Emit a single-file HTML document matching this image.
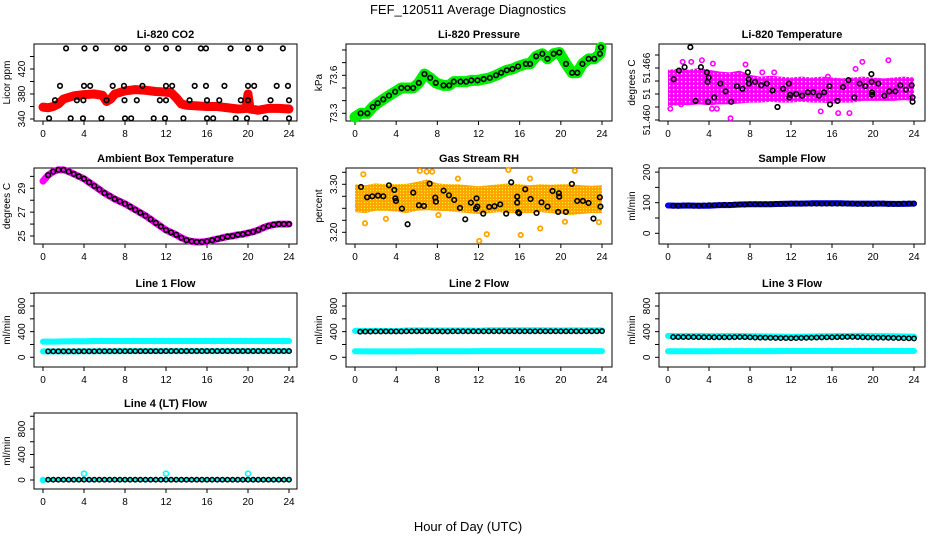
<!DOCTYPE html>
<html><head><meta charset="utf-8">
<style>
html,body{margin:0;padding:0;background:#fff;}
svg{display:block;font-family:"Liberation Sans",Arial,sans-serif;}
</style></head>
<body>
<svg id="chart" width="936" height="540" viewBox="0 0 936 540" xmlns="http://www.w3.org/2000/svg">
<defs>
<pattern id="magPat" width="4" height="4" patternUnits="userSpaceOnUse"><rect width="4" height="4" fill="#ff00ff"/><rect x="1" y="1" width="1.3" height="1.3" fill="#fff"/></pattern>
<pattern id="orPat" width="3" height="3" patternUnits="userSpaceOnUse"><rect width="3" height="3" fill="#ffa500"/><rect x="1" y="1" width="1" height="1" fill="#ffff00"/></pattern>
</defs>
<text x="468" y="14" text-anchor="middle" font-size="13">FEF_120511  Average Diagnostics</text>
<text x="468" y="531" text-anchor="middle" font-size="13">Hour of Day (UTC)</text>
</svg>
<script>
// ---------- data ----------
const xTicks = [0,4,8,12,16,20,24];
const halfHours = [0.5,1,1.5,2,2.5,3,3.5,4,4.5,5,5.5,6,6.5,7,7.5,8,8.5,9,9.5,10,10.5,11,11.5,12,12.5,13,13.5,14,14.5,15,15.5,16,16.5,17,17.5,18,18.5,19,19.5,20,20.5,21,21.5,22,22.5,23,23.5,24];
const hours = [0,1,2,3,4,5,6,7,8,9,10,11,12,13,14,15,16,17,18,19,20,21,22,23,24];

// CO2
const co2BandHours = [0,0.5,1,1.5,2,3,4,5,5.8,6.2,6.6,7,8,9,10,11,12,12.5,13,13.5,14,15,16,17,18,19,19.8,20,20.2,21,22,23,24];
const co2BandVals  = [359,358,360,364,372,377,379,380,378,368,372,380,385,387,386,384,383,382,374,364,362,361,360,360,358,356,357,380,356,354,357,357,356];
const co2PtHours = [2.25,4.04,5.15,7.26,7.92,10.2,12.0,13.2,15.4,15.9,18.3,20.0,21.2,23.4, 1.66,4.0,4.6,6.8,7.9,9.7,12.0,12.6,14.8,15.9,17.7,20.0,20.6,22.8,23.9, 1.17,3.3,3.94,6.2,7.95,9.15,11.4,12.0,14.3,16.0,17.2,19.3,20.0,22.2,24.0, 0.59,2.7,3.9,5.7,8.0,8.6,10.8,11.9,13.7,16.0,16.6,18.8,19.9,21.7,24.0];
const co2PtVals  = [453,453,453,453,453,453,453,453,453,453,453,453,453,453, 393,393,393,393,393,393,393,393,393,393,393,393,393,393,393, 370,370,370,370,370,370,370,370,370,370,370,370,370,370,370, 341,341,341,341,341,341,341,341,341,341,341,341,341,341,341];

// Pressure
const presHours = [0,0.55,1.2,1.72,2.2,2.75,3.3,3.9,4.5,5.1,5.65,6.2,6.75,7.3,7.85,8.6,9.15,9.6,10.25,10.8,11.3,11.9,12.5,13.1,13.7,14.2,14.75,15.3,15.85,16.6,17.0,17.6,18.2,18.7,19.3,19.85,20.5,21.1,21.6,22.1,22.7,23.25,23.8,23.9];
const presVals  = [73.27,73.30,73.30,73.35,73.38,73.41,73.44,73.47,73.50,73.50,73.50,73.54,73.61,73.58,73.54,73.52,73.52,73.55,73.55,73.55,73.56,73.56,73.57,73.58,73.60,73.62,73.64,73.65,73.67,73.69,73.69,73.75,73.77,73.73,73.77,73.78,73.69,73.62,73.62,73.69,73.73,73.73,73.77,73.82];

// Li-820 temperature
const tempUpper = [51.4658,51.4659,51.4658,51.4660,51.4658,51.4656,51.4655,51.4657,51.4652,51.4650,51.4651,51.4650,51.4649,51.4650,51.4649,51.4650,51.4649,51.4648,51.4649,51.4650,51.4649,51.4648,51.4649,51.4650,51.4649];
const tempLower = [51.4616,51.4617,51.4617,51.4618,51.4617,51.4618,51.4618,51.4619,51.4620,51.4620,51.4621,51.4620,51.4620,51.4621,51.4620,51.4620,51.4619,51.4620,51.4620,51.4622,51.4622,51.4622,51.4622,51.4623,51.4622];
const tempOutHours = [1.43,2.27,3.31,4.38,0.23,1.27,4.29,4.77,6.1,7.56,9.2,10.36,15.6,16.6,17.7,18.3,18.96,21.5,14.9];
const tempOutVals  = [51.4667,51.4667,51.4669,51.4665,51.4613,51.4618,51.4613,51.4613,51.4602,51.4664,51.4655,51.4655,51.4650,51.4608,51.4608,51.4659,51.4667,51.4669,51.4610];
const tempPtHours = [0.55,1.07,1.62,2.18,2.69,3.21,3.8,3.86,3.9,3.96,4.51,5.1,5.62,6.17,6.72,7.27,7.79,7.86,7.89,8.5,9.09,9.64,10.2,10.68,11.23,11.79,11.85,11.92,12.5,13.08,13.64,14.16,14.74,15.23,15.75,15.81,16.53,17.08,17.6,18.18,18.7,19.25,19.84,19.87,19.9,19.9,20.52,21.1,21.59,22.18,22.66,23.21,23.77,23.86,23.86];
const tempPtVals  = [51.4647,51.4657,51.4661,51.4684,51.4622,51.4661,51.4655,51.4644,51.4621,51.4649,51.4626,51.4642,51.4633,51.4621,51.4639,51.4636,51.4655,51.4647,51.4642,51.4644,51.4640,51.4642,51.4634,51.4615,51.4636,51.4642,51.4626,51.4629,51.4630,51.4628,51.4632,51.4632,51.4628,51.4632,51.4639,51.4618,51.4622,51.4638,51.4646,51.4626,51.4642,51.4639,51.4653,51.4644,51.4632,51.4629,51.4642,51.4628,51.4633,51.4633,51.4640,51.4635,51.4640,51.4626,51.4621];

// Ambient box temperature (0..24 every 0.5 h)
const ambVals = [29.6,30.1,30.4,30.55,30.55,30.4,30.2,30.0,29.8,29.5,29.2,28.9,28.6,28.35,28.1,27.9,27.7,27.45,27.2,26.95,26.7,26.4,26.1,25.8,25.5,25.3,25.1,24.85,24.65,24.55,24.5,24.5,24.55,24.65,24.75,24.85,24.95,25.0,25.1,25.15,25.25,25.35,25.5,25.7,25.85,25.95,26.0,26.0,26.0];

// Gas stream RH
const rhUpper = [3.300,3.298,3.302,3.300,3.300,3.301,3.305,3.310,3.302,3.300,3.300,3.298,3.296,3.298,3.300,3.302,3.300,3.298,3.300,3.299,3.300,3.300,3.298,3.297,3.298];
const rhLower = [3.242,3.240,3.245,3.245,3.243,3.240,3.245,3.246,3.245,3.244,3.242,3.240,3.238,3.240,3.242,3.240,3.240,3.240,3.242,3.240,3.238,3.236,3.238,3.240,3.240];
const rhOutHours = [0.97,0.81,6.3,6.96,7.5,12.07,12.8,14.9,16.1,18.0,21.36,20.4,23.7,8.1,0.3,3.0,10.0,17.0];
const rhOutVals  = [3.2188,3.3208,3.3278,3.3264,3.3264,3.182,3.196,3.330,3.1944,3.208,3.3278,3.222,3.221,3.236,3.255,3.228,3.312,3.312];
const rhPtHours = [0.58,1.17,1.68,2.23,2.75,3.3,3.82,3.92,3.98,4.56,5.11,5.66,6.21,6.7,7.25,7.8,7.86,8.61,9.13,9.64,10.2,10.71,11.26,11.75,11.81,11.88,12.46,13.04,13.56,14.11,14.69,15.18,15.76,15.76,15.86,15.95,16.54,17.06,17.64,18.12,18.71,19.19,19.74,19.81,19.84,20.49,21.07,21.59,22.14,22.69,23.17,23.79,23.85];
const rhPtVals  = [3.2944,3.2729,3.2750,3.2764,3.2750,3.2979,3.2882,3.2708,3.2653,3.2493,3.2167,3.2826,3.2563,3.2549,3.3014,3.2722,3.2639,3.2868,3.2771,3.2674,3.2507,3.2271,3.2618,3.2493,3.2708,3.2535,3.2389,3.2528,3.2542,3.2583,3.2389,3.3042,3.2743,3.2618,3.2417,3.2396,3.2896,3.2694,3.2403,3.2625,3.2535,3.2861,3.2424,3.2813,3.2743,3.2424,3.3007,3.2653,3.2653,3.2611,3.2285,3.2729,3.2535];

// Sample flow
const sampleBlue  = [91,90,91,90,90,92,92,94,95,95,95,96,97,97,98,98,98,98,97,97,97,97,96,96,97];
const sampleBlack = [90,90,91,91,90,90,91,92,92,92,93,93,94,94,94,95,95,95,95,95,96,96,96,97,97,97,97,97,97,97,97,97,97,97,97,97,96,96,96,96,97,97,96,96,96,97,97,97];

// Line flows
const line1CyanHi = [245,245,248,250,250,255,255,255,255,255,255,255,255,255,255,255,255,255,255,255,255,255,255,255,255];
const line1CyanLo = [92,92,92,92,94,95,95,95,96,96,96,97,97,97,97,97,97,97,97,97,97,97,97,97,97];
const line1Black  = [93,93,93,93,93,93,94,94,94,94,95,95,95,95,95,95,96,96,96,96,96,96,96,97,97,97,97,97,97,97,97,97,97,97,97,97,97,97,97,97,97,97,97,97,97,97,97,97];
const line2CyanHi = [412,410,412,410,408,418,420,420,418,418,418,418,415,422,422,422,422,422,422,420,418,420,420,420,420];
const line2CyanLo = [95,92,92,92,92,93,94,94,94,95,95,95,96,96,96,96,96,96,96,96,96,96,96,96,96];
const line2Black  = [400,402,402,403,403,404,404,404,404,405,406,406,406,406,406,406,404,404,405,405,405,405,405,405,405,406,406,406,406,406,406,406,406,406,406,406,406,406,406,406,406,406,406,406,406,406,406,408];
const line3CyanHi = [335,330,332,334,330,330,332,332,328,326,325,322,320,322,325,328,330,332,335,334,330,330,328,325,322];
const line3CyanLo = [95,94,94,94,94,96,96,96,96,96,97,98,98,98,98,98,98,98,98,98,98,98,98,98,98];
const line3Black  = [315,315,315,315,315,314,314,313,312,312,312,312,314,316,314,312,308,306,306,304,302,300,300,298,300,302,304,306,308,310,312,312,314,316,318,318,316,312,310,308,306,306,304,302,300,298,296,294];
const line4Cyan   = [0,0,0,0,0,0,0,0,0,0,0,0,0,0,0,0,0,0,0,0,0,0,0,0,0];
const line4SpikeHours = [0,4,12,20];
const line4SpikeVals  = [0,100,100,100];
const line4Black  = [5,5,5,5,5,5,5,5,5,5,5,5,5,5,5,5,5,5,5,5,5,5,5,5,5,5,5,5,5,5,5,5,5,5,5,5,5,5,5,5,5,5,5,5,5,5,5,5];

// ---------- drawing ----------
const NS = "http://www.w3.org/2000/svg";
const svg = document.getElementById('chart');
function mk(tag, parent){ const e=document.createElementNS(NS,tag); parent.appendChild(e); return e; }

const cols = [{l:34,r:297,x0:43,x24:289},{l:346,r:612,x0:355,x24:602},{l:659,r:925,x0:668,x24:914}];
const rows = [{t:44,b:121},{t:168,b:244},{t:293,b:367},{t:413,b:489}];

function panel(name, title, ylab, col, row, v1, p1, v2, p2, ticks, labels){
  const c=cols[col], r=rows[row];
  const g=mk('g',svg);
  
  
  const xs = h => c.x0 + h*(c.x24-c.x0)/24;
  const ys = v => p1 + (v-v1)*(p2-p1)/(v2-v1);
  const box=mk('rect',g);
  
  
  box.setAttribute('x',c.l);box.setAttribute('y',r.t);box.setAttribute('width',c.r-c.l);box.setAttribute('height',r.b-r.t);
  box.setAttribute('fill','none');box.setAttribute('stroke','#000');box.setAttribute('stroke-width','1');
  const tt=mk('text',g);
  
  
  tt.setAttribute('x',(c.l+c.r)/2);tt.setAttribute('y',r.t-6);tt.setAttribute('text-anchor','middle');
  tt.setAttribute('font-size','11');tt.setAttribute('font-weight','bold');tt.textContent=title;
  // x axis
  const xa=mk('g',g);
  
  
  xTicks.forEach(h=>{
    const ln=mk('line',xa);ln.setAttribute('x1',xs(h));ln.setAttribute('x2',xs(h));ln.setAttribute('y1',r.b);ln.setAttribute('y2',r.b+4);ln.setAttribute('stroke','#000');
    const tx=mk('text',xa);
    
    
    tx.setAttribute('x',xs(h));tx.setAttribute('y',r.b+16);tx.setAttribute('text-anchor','middle');tx.setAttribute('font-size','10');tx.textContent=h;
  });
  // y axis
  const ya=mk('g',g);
  
  
  const al=mk('line',ya);al.setAttribute('x1',c.l);al.setAttribute('x2',c.l);al.setAttribute('y1',ys(ticks[0]));al.setAttribute('y2',ys(ticks[ticks.length-1]));al.setAttribute('stroke','#000');
  ticks.forEach((v,i)=>{
    const y=ys(v);
    const ln=mk('line',ya);ln.setAttribute('x1',c.l-4);ln.setAttribute('x2',c.l);ln.setAttribute('y1',y);ln.setAttribute('y2',y);ln.setAttribute('stroke','#000');
    if(labels[i]!==''){
      const tx=mk('text',ya);
      
      
      tx.setAttribute('transform','translate('+(c.l-9)+','+y+') rotate(-90)');tx.setAttribute('text-anchor','middle');tx.setAttribute('font-size','10');tx.textContent=labels[i];
    }
  });
  const yl=mk('text',g);
  
  
  yl.setAttribute('transform','translate('+(c.l-24)+','+((r.t+r.b)/2)+') rotate(-90)');yl.setAttribute('text-anchor','middle');yl.setAttribute('font-size','10');yl.textContent=ylab;
  const plot=mk('g',g);
  
  
  return {g:plot,xs,ys};
}
function band(P, name, xsArr, ysArr, color, w){
  const pl=mk('polyline',P.g);
  
  
  pl.setAttribute('points', xsArr.map((h,i)=>P.xs(h)+','+P.ys(ysArr[i])).join(' '));
  pl.setAttribute('fill','none');pl.setAttribute('stroke',color);pl.setAttribute('stroke-width',w);
  pl.setAttribute('stroke-linejoin','round');pl.setAttribute('stroke-linecap','round');
}
function cloud(P, name, hs, up, lo, fill){
  const pts = hs.map((h,i)=>P.xs(h)+','+P.ys(up[i])).concat(hs.slice().reverse().map((h,k)=>P.xs(h)+','+P.ys(lo[hs.length-1-k])));
  const pg=mk('polygon',P.g);
  
  
  pg.setAttribute('points',pts.join(' '));pg.setAttribute('fill',fill);
}
function pts(P, name, hs, vs, color, r, sw){
  const gg=mk('g',P.g);
  
  
  hs.forEach((h,i)=>{
    const ci=mk('circle',gg);
    
    
    ci.setAttribute('cx',P.xs(h));ci.setAttribute('cy',P.ys(vs[i]));ci.setAttribute('r',r);
    ci.setAttribute('fill','none');ci.setAttribute('stroke',color);ci.setAttribute('stroke-width',sw);
  });
}

// Li-820 CO2
let P = panel('co2','Li-820 CO2','Licor ppm',0,0,340,119,420,69,[340,360,380,400,420,440],['340','','380','','420','']);
band(P,'co2-red-band',co2BandHours,co2BandVals,'#ff0000',9);
pts(P,'co2-black-points',co2PtHours,co2PtVals,'#000',2.3,1.6);

// Pressure
P = panel('pressure','Li-820 Pressure','kPa',1,0,73.3,113.3,73.6,75.3,[73.3,73.4,73.5,73.6,73.7,73.8],['73.3','','','73.6','','']);
band(P,'pressure-green-band',presHours,presVals,'#00ee00',11);
pts(P,'pressure-black-points',presHours.slice(1),presVals.slice(1),'#000',2.3,1.6);

// Li-820 temperature
P = panel('licor-temp','Li-820 Temperature','degrees C',2,0,51.460,120,51.466,68,[51.460,51.4615,51.463,51.4645,51.466,51.4675],['51.460','','51','','51.466','']);
cloud(P,'temp-magenta-cloud',hours,tempUpper,tempLower,'url(#magPat)');
pts(P,'temp-magenta-outliers',tempOutHours,tempOutVals,'#ff00ff',2.2,1.6);
pts(P,'temp-black-points',tempPtHours,tempPtVals,'#000',2.3,1.6);

// Ambient
const ambHours = [0].concat(halfHours);
P = panel('ambient','Ambient Box Temperature','degrees C',0,1,25,236,29,188.3,[25,26,27,28,29,30],['25','','27','','29','']);
band(P,'ambient-magenta-band',ambHours,ambVals,'#ff00ff',7);
pts(P,'ambient-black-points',halfHours,ambVals.slice(1),'#000',2.3,1.6);

// RH
P = panel('rh','Gas Stream RH','percent',1,1,3.30,184.3,3.20,232.3,[3.20,3.225,3.25,3.275,3.30,3.325],['3.20','','','','3.30','']);
cloud(P,'rh-orange-cloud',hours,rhUpper,rhLower,'url(#orPat)');
pts(P,'rh-orange-outliers',rhOutHours,rhOutVals,'#ffa500',2.2,1.8);
pts(P,'rh-black-points',rhPtHours,rhPtVals,'#000',2.3,1.6);

// Sample flow
P = panel('sample-flow','Sample Flow','ml/min',2,1,0,233.3,100,202.7,[0,50,100,150,200],['0','','100','','200']);
band(P,'sample-blue-band',hours,sampleBlue,'#0000ff',6);
pts(P,'sample-black-points',halfHours,sampleBlack,'#000',2.2,1.5);

// Line flows
const lt=[0,200,400,600,800,1000], ll=['0','','400','','800',''];
P = panel('line1-flow','Line 1 Flow','ml/min',0,2,0,357.3,800,306,lt,ll);
band(P,'line1-cyan-high',hours,line1CyanHi,'#00ffff',6);
band(P,'line1-cyan-low',hours,line1CyanLo,'#00ffff',6);
pts(P,'line1-black-points',halfHours,line1Black,'#000',2.2,1.5);

P = panel('line2-flow','Line 2 Flow','ml/min',1,2,0,357.3,800,306,lt,ll);
band(P,'line2-cyan-high',hours,line2CyanHi,'#00ffff',6);
band(P,'line2-cyan-low',hours,line2CyanLo,'#00ffff',6);
pts(P,'line2-black-points',halfHours,line2Black,'#000',2.2,1.5);

P = panel('line3-flow','Line 3 Flow','ml/min',2,2,0,357.3,800,306,lt,ll);
band(P,'line3-cyan-high',hours,line3CyanHi,'#00ffff',6);
band(P,'line3-cyan-low',hours,line3CyanLo,'#00ffff',6);
pts(P,'line3-black-points',halfHours,line3Black,'#000',2.2,1.5);

P = panel('line4-flow','Line 4 (LT) Flow','ml/min',0,3,0,480,800,429,lt,ll);
band(P,'line4-cyan-line',hours,line4Cyan,'#00ffff',4);
pts(P,'line4-cyan-spikes',line4SpikeHours,line4SpikeVals,'#00ffff',2.5,1.6);
pts(P,'line4-black-points',halfHours,line4Black,'#000',2.2,1.5);
</script>
</body></html>
